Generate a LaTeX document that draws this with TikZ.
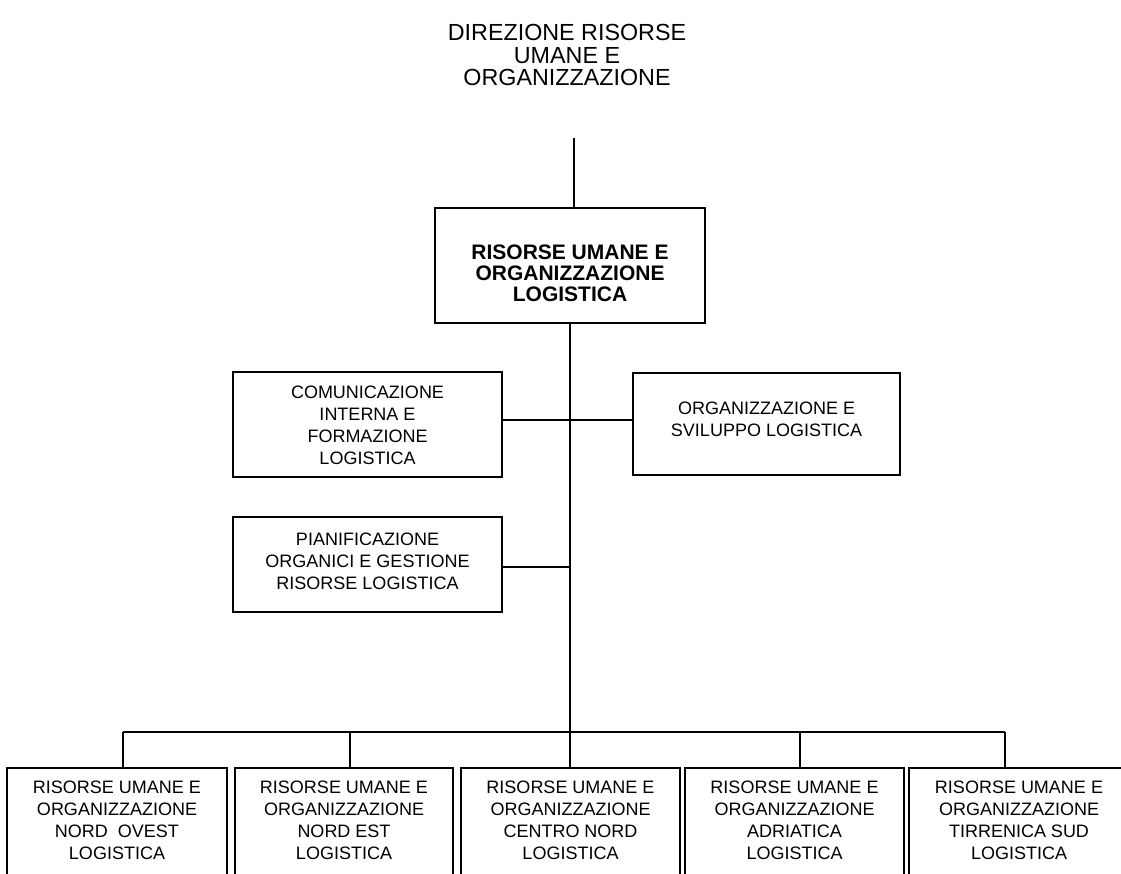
\documentclass[tikz,border=0pt]{standalone}
\usepackage{fontspec}
\setmainfont{Liberation Sans}
% stacked lines of text, moved up or down without changing the box size
\newcommand{\lifted}[2]{\raisebox{#1}[\height][\depth]{\begin{tabular}{@{}c@{}}#2\end{tabular}}}
\begin{document}
\begin{tikzpicture}[x=1pt,y=-1pt,
  every node/.style={inner sep=0pt,outer sep=0pt},
  unit/.style={draw,line width=1.6pt,align=center,
    font=\fontsize{18}{22}\selectfont},
  headunit/.style={draw,line width=1.6pt,align=center,
    font=\fontsize{21}{21}\selectfont\bfseries},
  link/.style={line width=1.5pt}]
\clip (0,0) rectangle (1121,874);
\fill[white] (0,0) rectangle (1121,874);

% heading above the chart
\node[align=center,font=\fontsize{23.3}{22.8}\selectfont] (dir) at (567,55)
  {DIREZIONE RISORSE\\UMANE E\\ORGANIZZAZIONE};

% main unit
\node[headunit,minimum width=270,minimum height=115] (top) at (570,265.5)
  {\lifted{-10.5pt}{RISORSE UMANE E\\ORGANIZZAZIONE\\LOGISTICA}};

% staff units
\node[unit,minimum width=269,minimum height=105] (com) at (367.5,424.5)
  {\lifted{-3pt}{COMUNICAZIONE\\INTERNA E\\FORMAZIONE\\LOGISTICA}};
\node[unit,minimum width=267,minimum height=102] (org) at (766.5,424)
  {\lifted{3pt}{ORGANIZZAZIONE E\\SVILUPPO LOGISTICA}};
\node[unit,minimum width=269,minimum height=95] (pia) at (367.5,564.5)
  {\lifted{1.5pt}{PIANIFICAZIONE\\ORGANICI E GESTIONE\\RISORSE LOGISTICA}};

% regional units (lower edge runs past the page)
\tikzset{region/.style={unit,minimum height=114}}
\node[region,minimum width=220] (r1) at (117,825)
  {\lifted{3pt}{RISORSE UMANE E\\ORGANIZZAZIONE\\NORD~ OVEST\\LOGISTICA}};
\node[region,minimum width=218] (r2) at (344,825)
  {\lifted{3pt}{RISORSE UMANE E\\ORGANIZZAZIONE\\NORD EST\\LOGISTICA}};
\node[region,minimum width=219] (r3) at (570.5,825)
  {\lifted{3pt}{RISORSE UMANE E\\ORGANIZZAZIONE\\CENTRO NORD\\LOGISTICA}};
\node[region,minimum width=219] (r4) at (794.5,825)
  {\lifted{3pt}{RISORSE UMANE E\\ORGANIZZAZIONE\\ADRIATICA\\LOGISTICA}};
\node[region,minimum width=220] (r5) at (1019,825)
  {\lifted{3pt}{RISORSE UMANE E\\ORGANIZZAZIONE\\TIRRENICA SUD\\LOGISTICA}};

% connector points
\coordinate (in) at (574,138);
\coordinate (sA) at (570,420);
\coordinate (sB) at (570,567);
\coordinate (bus) at (570,732);
\coordinate (d1) at (123,732);
\coordinate (d2) at (350,732);
\coordinate (d4) at (800,732);
\coordinate (d5) at (1005,732);

% connectors
\draw[link] (in) -- (in |- top.north);
\draw[link] (top.south -| bus) -- (bus) -- (bus |- r3.north);
\draw[link] (com.east |- sA) -- (org.west |- sA);
\draw[link] (pia.east |- sB) -- (sB);
\draw[link] (d1) -- (d5);
\draw[link] (d1) -- (d1 |- r1.north);
\draw[link] (d2) -- (d2 |- r2.north);
\draw[link] (d4) -- (d4 |- r4.north);
\draw[link] (d5) -- (d5 |- r5.north);
\end{tikzpicture}
\end{document}
